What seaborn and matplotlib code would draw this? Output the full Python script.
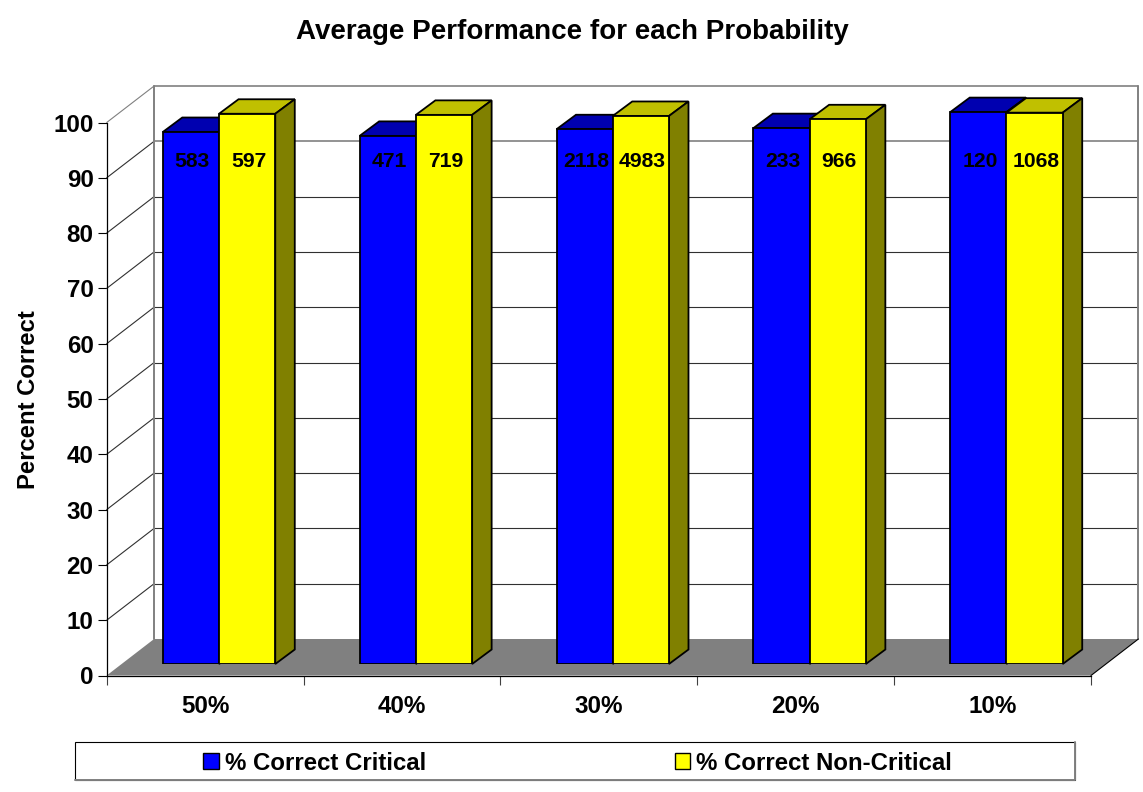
import matplotlib
matplotlib.use('Agg')
import matplotlib.pyplot as plt
from matplotlib.lines import Line2D
from matplotlib.patches import Polygon, Rectangle
import pandas as pd
import seaborn as sns

probabilidades = ['50%', '40%', '30%', '20%', '10%']
critico = [96.2, 95.5, 96.7, 96.9, 99.8]
nao_critico = [99.5, 99.3, 99.1, 98.5, 99.7]
n_critico = ['583', '471', '2118', '233', '120']
n_nao_critico = ['597', '719', '4983', '966', '1068']
series = ['% Correct Critical', '% Correct Non-Critical']
ticks_y = [0, 10, 20, 30, 40, 50, 60, 70, 80, 90, 100]

W, H = 1143, 792


def caixa(esq, dir, topo, base):
    return [esq / W, 1 - base / H, (dir - esq) / W, (base - topo) / H]


sns.set_style('white')
plt.rcParams['font.family'] = ['Liberation Sans', 'DejaVu Sans']
plt.rcParams['font.weight'] = 'bold'
plt.rcParams['text.color'] = 'black'
plt.rcParams['axes.labelcolor'] = 'black'
plt.rcParams['xtick.color'] = 'black'
plt.rcParams['ytick.color'] = 'black'

tabela = pd.DataFrame({
    'prob': probabilidades * 2,
    'valor': critico + nao_critico,
    'serie': [series[0]] * 5 + [series[1]] * 5,
})

fig = plt.figure(figsize=(W / 100, H / 100), dpi=100, facecolor='white')

# plano da frente: eixos com os ticks
ax = fig.add_axes(caixa(106.7, 1091, 122.5, 675.5))
ax.set_xlim(0, 5)
ax.set_ylim(0, 100)
ax.patch.set_visible(False)
for lado in ['top', 'right']:
    ax.spines[lado].set_visible(False)
for lado in ['left', 'bottom']:
    ax.spines[lado].set_color('black')
    ax.spines[lado].set_linewidth(0.9)

ax.set_yticks(ticks_y)
ax.tick_params(axis='y', left=True, length=6.5, width=0.8, color='black', pad=3, labelsize=17.4)
ax.set_xticks(range(6))
ax.set_xticklabels([])
ax.tick_params(axis='x', which='major', bottom=True, length=6.5, width=0.8, color='#404040')
ax.set_xticks([i + 0.5 for i in range(5)], minor=True)
ax.set_xticklabels(probabilidades, minor=True, fontsize=17.4)
ax.tick_params(axis='x', which='minor', bottom=False, length=0, pad=14)
ax.set_ylabel('Percent Correct', fontsize=17.2, fontweight='bold')
ax.yaxis.set_label_coords(-0.068, 0.498)
for rotulo in ax.get_yticklabels():
    rotulo.set_y(rotulo.get_position()[1])

# profundidade da parede do fundo
fundo_x = 47.4 / 196.86
fundo_y = 36.5 / 5.53

ax.add_patch(Polygon([(0, 0), (fundo_x, fundo_y), (5 + fundo_x, fundo_y), (5, 0)],
                     closed=True, facecolor='#808080', edgecolor='none', clip_on=False, zorder=1))
ax.plot([5, 5 + fundo_x], [0, fundo_y], color='black', lw=0.8, clip_on=False, zorder=1.5)
for v in ticks_y[1:]:
    cor = '#808080' if v >= 90 else '#303030'
    ax.plot([0, fundo_x], [v, v + fundo_y], color='#303030' if v < 100 else '#808080',
            lw=0.8, clip_on=False, zorder=0.8)
    ax.plot([fundo_x, 5 + fundo_x], [v + fundo_y, v + fundo_y], color=cor,
            lw=1.2 if v >= 90 else 0.8, clip_on=False, zorder=0.8)
for x_parede in [fundo_x, 5 + fundo_x]:
    ax.plot([x_parede, x_parede], [fundo_y, 100 + fundo_y], color='#808080', lw=1.4, clip_on=False, zorder=0.8)

# plano das barras
ax_barras = fig.add_axes(caixa(120.6, 1104.9, 111, 664))
sns.barplot(data=tabela, x='prob', y='valor', hue='serie', palette=['#0000FF', '#FFFF00'],
            width=0.5714, gap=0, edgecolor='black', linewidth=1.3, saturation=1,
            ax=ax_barras)
ax_barras.set_xlim(-0.5, 4.5)
ax_barras.set_ylim(0, 100)
ax_barras.axis('off')

handles, labels = ax_barras.get_legend_handles_labels()
ax_barras.get_legend().remove()

prof_x = 19.5 / 196.86
prof_y = 14.5 / 5.53
cores_topo = ['#0000B0', '#C0C000']
cores_lado = ['#000080', '#808000']
textos = [n_critico, n_nao_critico]
nivel_texto = 90.9
desvio_texto = 1.5 / 196.86

for s, barras in enumerate(ax_barras.containers):
    for b, barra in enumerate(barras):
        barra.set_zorder(3 + s * 2)
        x0 = barra.get_x()
        x1 = x0 + barra.get_width()
        y1 = barra.get_height()
        ax_barras.add_patch(Polygon([(x0, y1), (x0 + prof_x, y1 + prof_y), (x1 + prof_x, y1 + prof_y), (x1, y1)],
                                    closed=True, facecolor=cores_topo[s], edgecolor='black', lw=1.3,
                                    clip_on=False, zorder=2 + s * 2))
        ax_barras.add_patch(Polygon([(x1, 0), (x1 + prof_x, prof_y), (x1 + prof_x, y1 + prof_y), (x1, y1)],
                                    closed=True, facecolor=cores_lado[s], edgecolor='black', lw=1.3,
                                    clip_on=False, zorder=2 + s * 2))
        ax_barras.text((x0 + x1) / 2 + desvio_texto, nivel_texto, textos[s][b], ha='center', va='center',
                       fontsize=15.2, fontweight='bold', color='black', zorder=8)

fig.suptitle('Average Performance for each Probability', x=572.5 / W, y=1 - 32 / H,
             va='center', ha='center', fontsize=20, fontweight='bold')

# legenda
fig.add_artist(Rectangle((75 / W, 1 - 780 / H), 1000 / W, 38.5 / H, transform=fig.transFigure,
                         facecolor='white', edgecolor='black', lw=0.8))
fig.add_artist(Line2D([75 / W, 1075 / W, 1075 / W], [1 - 780 / H, 1 - 780 / H, 1 - 741.5 / H],
                      transform=fig.transFigure, color='#808080', lw=1.4))
leg = fig.legend(handles, labels, loc='center', bbox_to_anchor=(577.5 / W, 1 - 763 / H), ncol=2,
                 frameon=False, fontsize=17.3, handlelength=0.645, handleheight=0.645,
                 handletextpad=0.25, columnspacing=10.35, borderpad=0, borderaxespad=0)
for h in leg.legend_handles:
    h.set_edgecolor('black')
    h.set_linewidth(1.0)

fig.savefig('out.png', dpi=100)
